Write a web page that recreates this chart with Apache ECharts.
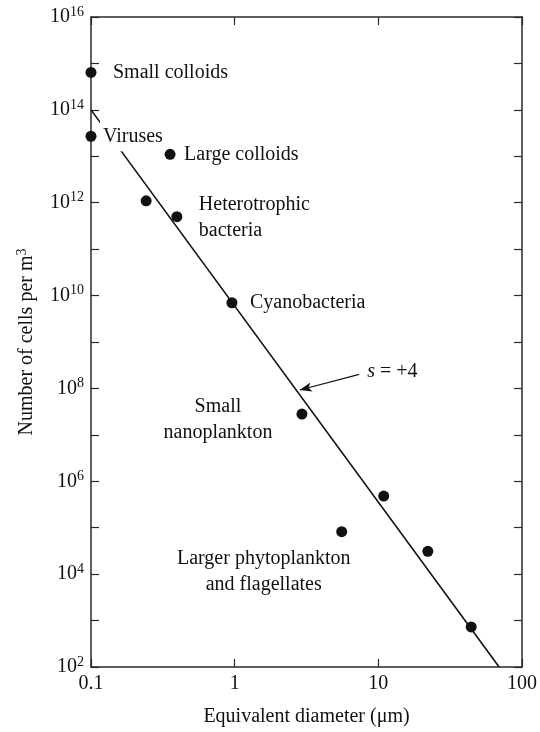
<!DOCTYPE html>
<html>
<head>
<meta charset="utf-8">
<script src="https://cdn.jsdelivr.net/npm/echarts@6/dist/echarts.min.js"></script>
<style>
  html, body { margin: 0; padding: 0; background: #fff; }
  #chart { width: 540px; height: 732px; }
</style>
</head>
<body>
<div id="chart"></div>
<script>
// Observed particle and cell abundances versus size
const diameters = [0.1, 0.1, 0.355, 0.242, 0.396, 0.957, 2.94, 10.9, 5.56, 22.1, 44.3];
const cellCounts = [6.4e14, 2.7e13, 1.1e13, 1.1e12, 5.0e11, 7.0e9, 2.8e7, 4.8e5, 8.2e4, 3.1e4, 7.3e2];
const pointNames = ['Small colloids', 'Viruses', 'Large colloids', '', 'Heterotrophic\nbacteria',
  'Cyanobacteria', 'Small\nnanoplankton', '', 'Larger phytoplankton\nand flagellates', '', ''];

// Power-law fit line, slope s = +4
const fitDiameters = [0.1, 69.3];
const fitCounts = [1e14, 1e2];

// Slope annotation: arrow from the text toward the fitted line
const slopeArrowFrom = [7.36, 2.0e8];
const slopeArrowTo = [2.84, 9.25e7];
const slopeText = ['s', ' = +4'];

// Tick labels
const xTickLabels = { '-1': '0.1', '0': '1', '1': '10', '2': '100' };
const yLabelExponents = [2, 4, 6, 8, 10, 12, 14, 16];

const FONT = '"Liberation Serif", "DejaVu Serif", serif';
const INK = '#111';
const AXIS = '#2a2a2a';

// Label placement relative to each point: [dx, dy, align, opaque background]
const labelPlacement = {
  0: [22, 0, 'left'],
  1: [9, 0, 'left', true],
  2: [14, 0, 'left'],
  4: [22, 1, 'left'],
  5: [18, 0, 'left'],
  6: [-84, 6, 'center'],
  8: [-78, 40, 'center']
};

const pointData = diameters.map((d, i) => {
  const item = { value: [d, cellCounts[i]], name: pointNames[i] };
  const p = labelPlacement[i];
  if (p && pointNames[i]) {
    item.label = {
      show: true,
      position: 'inside',
      offset: [p[0], p[1]],
      align: p[2],
      verticalAlign: 'middle',
      formatter: '{b}',
      color: INK,
      fontFamily: FONT,
      fontSize: 20,
      lineHeight: 26
    };
    if (p[3]) {
      item.label.backgroundColor = '#fff';
      item.label.padding = [2, 3, 2, 3];
    }
  }
  return item;
});

const expOf = v => Math.round(Math.log10(v));

const chart = echarts.init(document.getElementById('chart'), null, { renderer: 'canvas' });

const supRich = {
  b: { fontFamily: FONT, fontSize: 20, color: INK, lineHeight: 22 },
  s: { fontFamily: FONT, fontSize: 14, color: INK, verticalAlign: 'top', padding: [0, 0, 10, 0] }
};

const baseYAxis = {
  type: 'log',
  logBase: 10,
  min: 1e2,
  max: 1e16,
  interval: 1,
  splitNumber: 14,
  splitLine: { show: false },
  axisLine: { show: true, lineStyle: { color: AXIS, width: 1.5 } },
  axisTick: { show: true, inside: true, length: 8, lineStyle: { color: AXIS, width: 1.2 } }
};

const baseXAxis = {
  type: 'log',
  logBase: 10,
  min: 0.1,
  max: 100,
  interval: 1,
  splitNumber: 3,
  splitLine: { show: false },
  axisLine: { show: true, lineStyle: { color: AXIS, width: 1.5 } },
  axisTick: { show: true, inside: true, length: 8, lineStyle: { color: AXIS, width: 1.2 } }
};

chart.setOption({
  animation: false,
  backgroundColor: '#fff',
  grid: { left: 91, right: 14, top: 17, bottom: 62, containLabel: false },
  xAxis: [
    Object.assign({}, baseXAxis, {
      position: 'bottom',
      name: 'Equivalent diameter (\u03bcm)',
      nameLocation: 'middle',
      nameGap: 40,
      nameTextStyle: { fontFamily: FONT, fontSize: 20, color: INK },
      axisLabel: {
        margin: 7,
        fontFamily: FONT,
        fontSize: 20,
        color: INK,
        formatter: v => xTickLabels[String(expOf(v))] || ''
      }
    }),
    Object.assign({}, baseXAxis, {
      position: 'top',
      axisLabel: { show: false }
    })
  ],
  yAxis: [
    Object.assign({}, baseYAxis, {
      position: 'left',
      name: '{a|Number of cells per m}{s|3}',
      nameLocation: 'middle',
      nameGap: 52,
      nameRotate: 90,
      nameTextStyle: {
        rich: {
          a: { fontFamily: FONT, fontSize: 20, color: INK, lineHeight: 22 },
          s: { fontFamily: FONT, fontSize: 14, color: INK, verticalAlign: 'top', padding: [0, 0, 10, 0] }
        }
      },
      axisLabel: {
        margin: 7,
        formatter: v => {
          const e = expOf(v);
          return yLabelExponents.indexOf(e) >= 0 ? '{b|10}{s|' + e + '}' : '';
        },
        rich: supRich
      }
    }),
    Object.assign({}, baseYAxis, {
      position: 'right',
      axisLabel: { show: false }
    })
  ],
  series: [
    {
      type: 'line',
      xAxisIndex: 0,
      yAxisIndex: 0,
      data: fitDiameters.map((d, i) => [d, fitCounts[i]]),
      showSymbol: false,
      symbol: 'none',
      lineStyle: { color: '#111', width: 1.6 },
      z: 2,
      markLine: {
        silent: true,
        symbol: ['none', 'arrow'],
        symbolSize: [7, 12],
        label: { show: false },
        lineStyle: { color: '#111', width: 1.2, type: 'solid' },
        data: [[
          { coord: slopeArrowFrom },
          { coord: slopeArrowTo }
        ]]
      },
      markPoint: {
        silent: true,
        symbol: 'circle',
        symbolSize: 1,
        itemStyle: { color: 'rgba(0,0,0,0)' },
        label: {
          show: true,
          position: 'inside',
          offset: [8, -3],
          align: 'left',
          verticalAlign: 'middle',
          formatter: '{i|' + slopeText[0] + '}{n|' + slopeText[1] + '}',
          rich: {
            i: { fontFamily: FONT, fontSize: 20, fontStyle: 'italic', color: INK },
            n: { fontFamily: FONT, fontSize: 20, color: INK }
          }
        },
        data: [{ coord: slopeArrowFrom }]
      }
    },
    {
      type: 'scatter',
      xAxisIndex: 0,
      yAxisIndex: 0,
      data: pointData,
      symbol: 'circle',
      symbolSize: 11,
      itemStyle: { color: '#111', opacity: 1 },
      z: 5
    }
  ]
});
</script>
</body>
</html>
